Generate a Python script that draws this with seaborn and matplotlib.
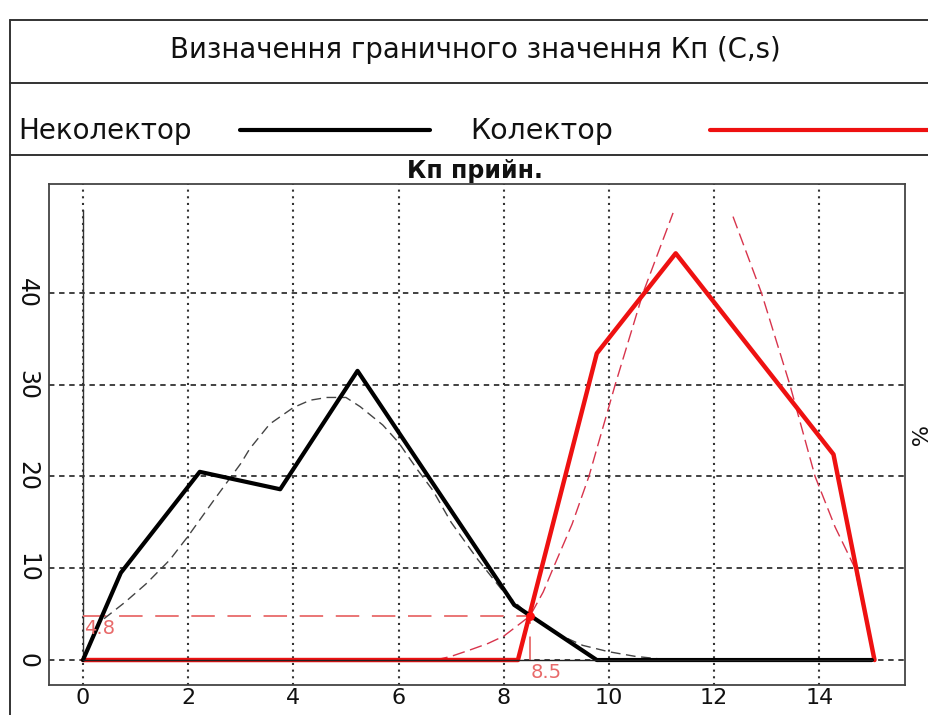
import numpy as np
import pandas as pd
import matplotlib
matplotlib.use("Agg")
import matplotlib.pyplot as plt
from matplotlib.lines import Line2D
import seaborn as sns

# --- data -------------------------------------------------------------
title = "Визначення граничного значення Кп (C,s)"
subtitle = "Кп прийн."
label_noncollector = "Неколектор"
label_collector = "Колектор"
right_label = "%"

x_ticks = [0, 2, 4, 6, 8, 10, 12, 14]
y_ticks = [0, 10, 20, 30, 40]

# empirical frequency polygons (Kp, %)
noncol_x = [0.0, 0.72, 2.22, 3.75, 5.22, 8.2, 9.77, 15.0]
noncol_y = [0.0, 9.5, 20.5, 18.6, 31.5, 6.0, 0.0, 0.0]

col_x = [0.0, 8.27, 9.77, 11.27, 14.27, 15.05]
col_y = [0.0, 0.0, 33.4, 44.3, 22.4, 0.0]

# fitted density curves (Kp, %)
noncol_fit_x = [0.4, 0.8, 1.2, 1.65, 2.0, 2.5, 3.0, 3.17, 3.55, 4.0, 4.32,
                4.64, 5.0, 5.27, 5.7, 6.0, 6.35, 6.65, 7.0, 7.5, 8.0, 8.5,
                9.0, 9.5, 10.0, 10.5, 11.0]
noncol_fit_y = [4.5, 6.3, 8.3, 10.9, 13.5, 17.5, 21.4, 23.0, 25.7, 27.5, 28.3,
                28.6, 28.6, 27.6, 25.6, 23.7, 20.8, 18.5, 15.0, 11.0, 7.4, 4.8,
                2.9, 1.6, 0.9, 0.4, 0.1]

col_fit_left_x = [6.7, 7.0, 7.36, 7.7, 8.0, 8.5, 8.75, 8.94, 9.3, 9.62, 10.12,
                  10.65, 11.22]
col_fit_left_y = [0.0, 0.4, 1.1, 1.8, 2.6, 4.8, 7.4, 10.0, 14.8, 20.0, 30.0,
                  40.0, 48.7]
col_fit_right_x = [12.36, 12.9, 13.44, 13.92, 14.3, 14.68, 14.96]
col_fit_right_y = [48.3, 40.0, 30.0, 20.0, 14.5, 10.0, 2.2]

# threshold point
threshold_kp = 8.5
threshold_pct = 4.8
zero_line_end = 15.0
axis_line_top = 49.0

# --- figure -------------------------------------------------------------
sns.set_theme(style="white")
plt.rcParams["font.family"] = ["DejaVu Sans"]

W, H = 929, 715
fig = plt.figure(figsize=(W / 100, H / 100), dpi=100)


def fx(px):
    return px / W


def fy(py):
    return 1 - py / H


# outer layout frame
frame_kw = dict(color="#333333", lw=1.4, transform=fig.transFigure)
for y in (20, 83, 155):
    fig.add_artist(Line2D([fx(10), 1.0], [fy(y), fy(y)], **frame_kw))
fig.add_artist(Line2D([fx(10), fx(10)], [fy(20), 0.0], **frame_kw))

fig.text(fx(475), fy(50), title, ha="center", va="center", fontsize=19.8, color="#111111")

# legend row
fig.text(fx(18), fy(131), label_noncollector, ha="left", va="center", fontsize=20, color="#111111")
fig.add_artist(Line2D([fx(240), fx(430)], [fy(130), fy(130)], color="black", lw=3,
                      transform=fig.transFigure))
fig.text(fx(470), fy(131), label_collector, ha="left", va="center", fontsize=20.5, color="#111111")
fig.add_artist(Line2D([fx(710), 1.0], [fy(130), fy(130)], color="#ee1111", lw=3,
                      transform=fig.transFigure))

fig.text(fx(475), fy(171), subtitle, ha="center", va="center", fontsize=17,
         fontweight="bold", color="#111111")
fig.text(fx(916), fy(437), right_label, ha="center", va="center", fontsize=16,
         rotation=-90, color="#111111")

# plot panel
ax = fig.add_axes([fx(49), fy(685), fx(905) - fx(49), fy(184) - fy(685)])
ax.set_xlim(-0.646, 15.63)
ax.set_ylim(-2.72, 51.85)

for xv in x_ticks:
    ax.axvline(xv, color="#333333", lw=1.5, ls=(0, (1, 2.2)), zorder=1)
for yv in y_ticks:
    ax.axhline(yv, color="#333333", lw=1.3, ls=(0, (3, 2.6)), zorder=1)

# axis line at Kp = 0
ax.plot([0, 0], [0, axis_line_top], color="#333333", lw=1.0, zorder=2)

# threshold guides
guide_col = "#e86a6a"
ax.plot([0, threshold_kp], [threshold_pct, threshold_pct], color=guide_col, lw=1.3,
        dashes=(13, 7), zorder=2)
ax.plot([threshold_kp, threshold_kp], [0, threshold_pct], color=guide_col, lw=1.3,
        dashes=(13, 7), zorder=2)

fits = pd.DataFrame({
    "x": noncol_fit_x + col_fit_left_x + col_fit_right_x,
    "y": noncol_fit_y + col_fit_left_y + col_fit_right_y,
    "curve": (["noncol"] * len(noncol_fit_x) + ["col_l"] * len(col_fit_left_x)
              + ["col_r"] * len(col_fit_right_x)),
})
sns.lineplot(data=fits[fits.curve == "noncol"], x="x", y="y", color="#444444", lw=1.0,
             sort=False, estimator=None, ax=ax, zorder=3)
ax.lines[-1].set_dashes((7, 4))
for key in ("col_l", "col_r"):
    sns.lineplot(data=fits[fits.curve == key], x="x", y="y", color="#d8344c", lw=1.0,
                 sort=False, estimator=None, ax=ax, zorder=3)
    ax.lines[-1].set_dashes((9, 4))

polys = pd.DataFrame({
    "x": col_x + noncol_x,
    "y": col_y + noncol_y,
    "group": [label_collector] * len(col_x) + [label_noncollector] * len(noncol_x),
})
sns.lineplot(data=polys[polys.group == label_collector], x="x", y="y", color="#ee1111",
             lw=3.2, sort=False, estimator=None, ax=ax, zorder=4)
sns.lineplot(data=polys[polys.group == label_noncollector], x="x", y="y", color="black",
             lw=3.0, sort=False, estimator=None, ax=ax, zorder=5)

# zero baseline
ax.plot([0, zero_line_end], [0, 0], color="#222222", lw=1.0, zorder=6)

ax.scatter([threshold_kp], [threshold_pct], s=40, color="#ff1010", zorder=7, linewidths=0)
ax.text(0.03, threshold_pct - 0.3, f"{threshold_pct}", color=guide_col, fontsize=14,
        ha="left", va="top", zorder=8)
ax.text(threshold_kp + 0.02, -0.3, f"{threshold_kp}", color=guide_col, fontsize=14,
        ha="left", va="top", zorder=8)

ax.set_xticks(x_ticks)
ax.set_yticks(y_ticks)
ax.set_xticklabels([str(v) for v in x_ticks], fontsize=16, color="#111111")
ax.set_yticklabels([str(v) for v in y_ticks], fontsize=17, color="#111111",
                   rotation=-90, va="center")
ax.tick_params(axis="x", length=0, pad=2.5)
ax.tick_params(axis="y", length=0, pad=7)
ax.set_xlabel("")
ax.set_ylabel("")
ax.grid(False)
for s in ax.spines.values():
    s.set_color("#444444")
    s.set_linewidth(1.3)

fig.savefig("out.png", dpi=100, facecolor="white")
